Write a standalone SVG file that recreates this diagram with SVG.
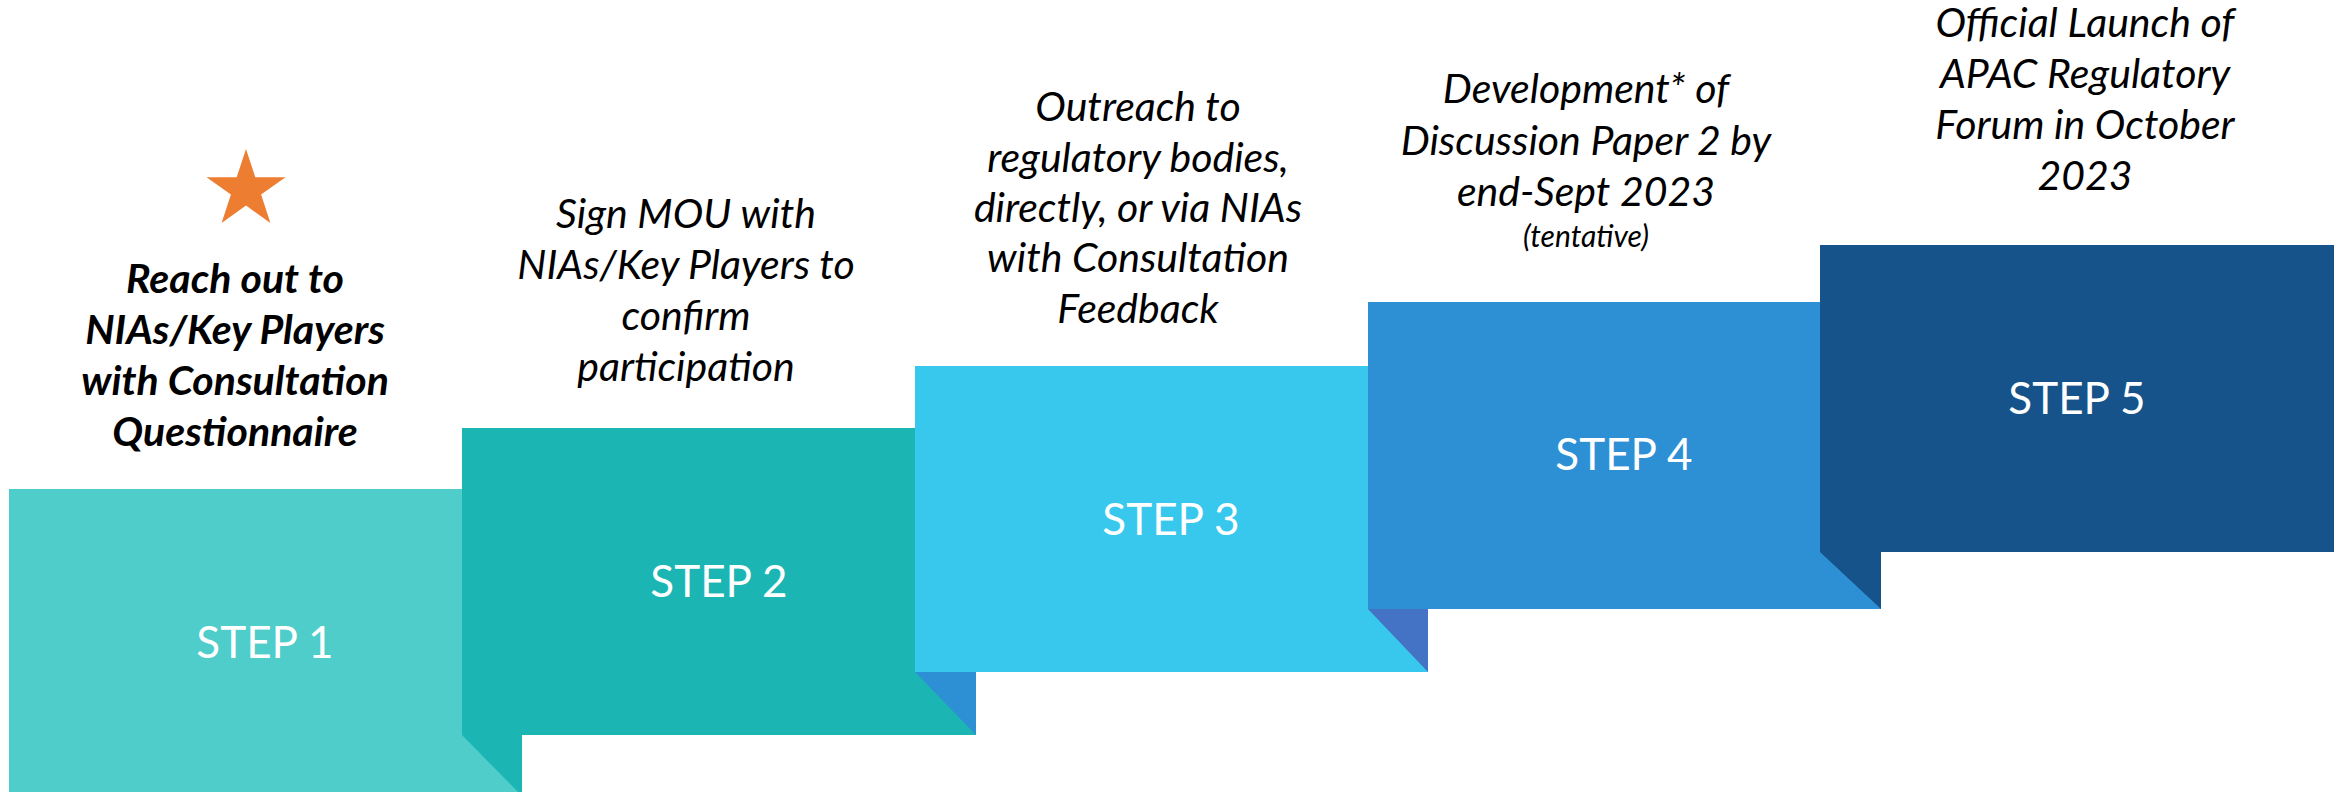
<svg xmlns="http://www.w3.org/2000/svg" width="2346" height="792" viewBox="0 0 2346 792">
<style>
.lbl{font-family:Lato,"Open Sans","Liberation Sans",sans-serif;font-size:44px;fill:#ffffff;text-anchor:middle}
.cap{font-family:Lato,"Open Sans","Liberation Sans",sans-serif;font-size:41px;font-style:italic;fill:#000000;text-anchor:middle}
.capb{font-weight:bold}
.cap.small{font-size:30px}
</style>
<rect width="2346" height="792" fill="#ffffff"/>
<g id="step1">
<rect x="9" y="489" width="513" height="310" fill="#4ECDCB"/>
<polygon points="462,735 522,735 522,796" fill="#1BB5B4"/>
<text class="lbl" x="265" y="658">STEP 1</text>
<polygon points="246,149 255.3,177.2 285.5,177.2 261.1,194.6 270.4,222.9 246,205.5 221.6,222.9 230.9,194.6 206.5,177.2 236.7,177.2" fill="#ED7D31"/>
<text class="cap capb"><tspan x="235" y="293">Reach out to</tspan><tspan x="235" y="344">NIAs/Key Players</tspan><tspan x="235" y="395">with Consultation</tspan><tspan x="235" y="446">Questionnaire</tspan></text>
</g>
<g id="step2">
<rect x="462" y="428" width="514" height="307" fill="#1BB5B4"/>
<polygon points="915,672 976,672 976,735" fill="#2E90D4"/>
<text class="lbl" x="719" y="597">STEP 2</text>
<text class="cap"><tspan x="686" y="228">Sign MOU with</tspan><tspan x="686" y="279">NIAs/Key Players to</tspan><tspan x="686" y="330">confirm</tspan><tspan x="686" y="381">participation</tspan></text>
</g>
<g id="step3">
<rect x="915" y="366" width="513" height="306" fill="#38C8EE"/>
<polygon points="1368,609 1428,609 1428,672" fill="#4472C4"/>
<text class="lbl" x="1171" y="535">STEP 3</text>
<text class="cap"><tspan x="1138" y="121">Outreach to</tspan><tspan x="1138" y="172">regulatory bodies,</tspan><tspan x="1138" y="222">directly, or via NIAs</tspan><tspan x="1138" y="272">with Consultation</tspan><tspan x="1138" y="323">Feedback</tspan></text>
</g>
<g id="step4">
<rect x="1368" y="302" width="513" height="307" fill="#2E90D4"/>
<polygon points="1820,552 1881,552 1881,609" fill="#15538A"/>
<text class="lbl" x="1624" y="470">STEP 4</text>
<text class="cap"><tspan x="1586" y="103">Development* of</tspan><tspan x="1586" y="155">Discussion Paper 2 by</tspan><tspan x="1586" y="206">end-Sept 2023</tspan></text>
<text class="cap small" x="1586" y="247">(tentative)</text>
</g>
<g id="step5">
<rect x="1820" y="245" width="514" height="307" fill="#15538A"/>
<text class="lbl" x="2077" y="414">STEP 5</text>
<text class="cap"><tspan x="2085" y="37">Official Launch of</tspan><tspan x="2085" y="88">APAC Regulatory</tspan><tspan x="2085" y="139">Forum in October</tspan><tspan x="2085" y="190">2023</tspan></text>
</g>
<g id="connectors"></g>
</svg>
